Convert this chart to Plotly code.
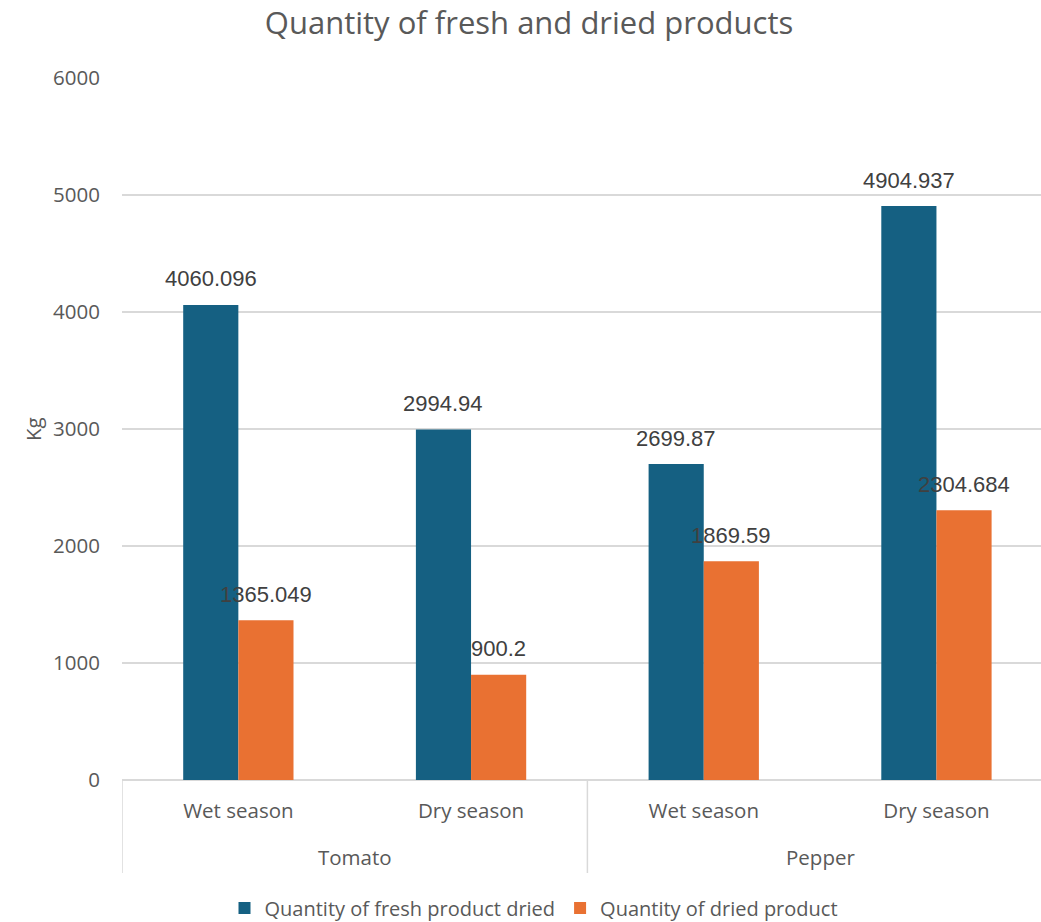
import plotly.graph_objects as go

crops = ["Tomato", "Tomato", "Pepper", "Pepper"]
seasons = ["Wet season", "Dry season", "Wet season", "Dry season"]
crop_groups = ["Tomato", "Pepper"]
fresh = [4060.096, 2994.94, 2699.87, 4904.937]
dried = [1365.049, 900.2, 1869.59, 2304.684]
fresh_labels = ["4060.096", "2994.94", "2699.87", "4904.937"]
dried_labels = ["1365.049", "900.2", "1869.59", "2304.684"]
y_ticks = [0, 1000, 2000, 3000, 4000, 5000, 6000]

BLUE = "#156082"
ORANGE = "#E97132"
GRID = "#D9D9D9"
TXT = "#595959"
LBL = "#404040"
FONT = "Open Sans, Liberation Sans, sans-serif"
NUMFONT = "Liberation Sans, Arial, sans-serif"

W, H = 1041, 922
ML, MT, MB = 122, 78, 142
BARGAP = 0.526
xpos = list(range(len(seasons)))
bw = (1 - BARGAP) / 2

fig = go.Figure()
fig.add_trace(go.Bar(x=xpos, y=fresh, name="Quantity of fresh product dried",
                     marker=dict(color=BLUE, line=dict(width=0))))
fig.add_trace(go.Bar(x=xpos, y=dried, name="Quantity of dried product",
                     marker=dict(color=ORANGE, line=dict(width=0))))

ann = []
for i, (v, t) in enumerate(zip(fresh, fresh_labels)):
    ann.append(dict(x=i - bw / 2, y=v, text=t, showarrow=False, yanchor="middle",
                    yshift=26, font=dict(family=NUMFONT, size=22, color=LBL)))
for i, (v, t) in enumerate(zip(dried, dried_labels)):
    ann.append(dict(x=i + bw / 2, y=v, text=t, showarrow=False, yanchor="middle",
                    yshift=26, font=dict(family=NUMFONT, size=22, color=LBL)))
# group labels
for g, c in enumerate(crop_groups):
    ann.append(dict(x=2 * g + 0.5, y=0, yref="y", text=c, showarrow=False,
                    yanchor="middle", yshift=-(857 - 780),
                    font=dict(family=FONT, size=20.5, color=TXT)))
# y-axis title
ann.append(dict(x=0, xref="paper", y=0.5, yref="paper", text="Kg", textangle=-90,
                showarrow=False, xanchor="center", yanchor="middle", xshift=-(ML - 33),
                font=dict(family=FONT, size=20.5, color=TXT)))

shapes = []
for xd in [-0.5, 1.5]:
    shapes.append(dict(type="line", xref="x", yref="paper", x0=xd, x1=xd,
                       y0=0, y1=-(873 - 780) / (H - MT - MB),
                       line=dict(color=GRID, width=1.5)))

fig.update_layout(
    width=W, height=H,
    margin=dict(l=ML, r=0, t=MT, b=MB),
    paper_bgcolor="white", plot_bgcolor="white",
    barmode="group", bargap=BARGAP, bargroupgap=0,
    title=dict(text="Quantity of fresh and dried products", x=529 / W, xanchor="center",
               y=1 - 23 / H, yanchor="middle", yref="container",
               font=dict(family=FONT, size=31, color=TXT)),
    xaxis=dict(range=[-0.5, -0.5 + (W - ML) / 232.7], tickvals=xpos, ticktext=seasons,
               showgrid=False, zeroline=False, showline=False,
               ticks="outside", ticklen=12, tickcolor="rgba(0,0,0,0)",
               tickfont=dict(family=FONT, size=20.5, color=TXT)),
    yaxis=dict(range=[0, 6000], tickvals=y_ticks, showgrid=True, gridcolor=GRID, gridwidth=1.5,
               zeroline=True, zerolinecolor=GRID, zerolinewidth=1.5, showline=False,
               ticks="outside", ticklen=17, tickcolor="rgba(0,0,0,0)",
               tickfont=dict(family=FONT, size=20.5, color=TXT)),
    legend=dict(orientation="h", xref="container", yref="container", x=534 / W,
                xanchor="center", y=1 - 908 / H, yanchor="middle", itemwidth=30,
                font=dict(family=FONT, size=20, color=TXT)),
    annotations=ann, shapes=shapes, showlegend=True,
)

fig.write_html("out.html")
